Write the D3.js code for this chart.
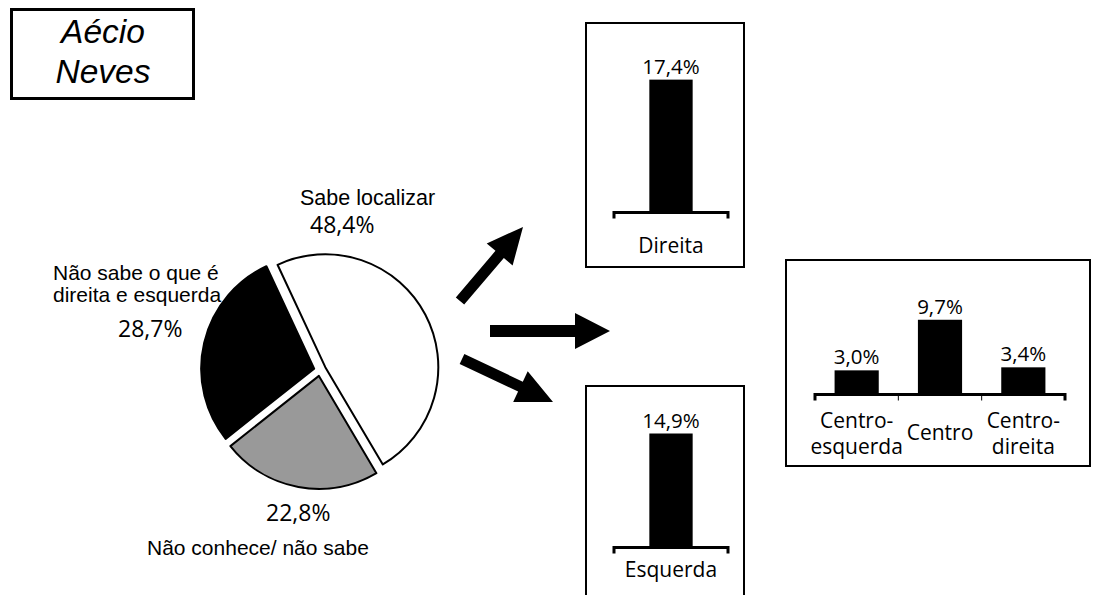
<!DOCTYPE html>
<html>
<head>
<meta charset="utf-8">
<script src="https://cdn.jsdelivr.net/npm/d3@7"></script>
<style>
  html, body { margin: 0; padding: 0; background: #fff; }
  svg { display: block; }
</style>
</head>
<body>
<svg id="chart" width="1097" height="595"></svg>
<script>
// ---- Data ----
const title = ["Aécio", "Neves"];
const pieLabels = ["Sabe localizar", "Não conhece/ não sabe", "Não sabe o que é direita e esquerda"];
const pieValues = [48.4, 22.8, 28.7];
const pieColors = ["#ffffff", "#999999", "#000000"];

const direitaCats = ["Direita"];
const direitaValues = [17.4];
const esquerdaCats = ["Esquerda"];
const esquerdaValues = [14.9];
const centroCats = ["Centro-esquerda", "Centro", "Centro-direita"];
const centroLabelLines = [["Centro-", "esquerda"], ["Centro"], ["Centro-", "direita"]];
const centroValues = [3.0, 9.7, 3.4];

const fmt = v => d3.format(".1f")(v).replace(".", ",") + "%";

const svg = d3.select("#chart");
const SANS = "'Liberation Sans', Arial, sans-serif";
const BARF = "'Open Sans', sans-serif";
const BARW = 400;

// ---- Title box ----
svg.append("rect").attr("x", 11.5).attr("y", 9.5).attr("width", 182).attr("height", 89)
  .attr("fill", "#fff").attr("stroke", "#000").attr("stroke-width", 3);
svg.selectAll("text.title").data(title).join("text")
  .attr("class", "title")
  .attr("x", 103).attr("y", (d, i) => 43 + i * 40)
  .attr("text-anchor", "middle")
  .attr("font-family", SANS).attr("font-style", "italic").attr("font-size", 33.5)
  .text(d => d);

// ---- Pie ----
const cx = 320, cy = 370, R = 113, explode = 6;
const pie = d3.pie().sort(null).value(d => d)
  .startAngle(-25 * Math.PI / 180).endAngle(-25 * Math.PI / 180 + 2 * Math.PI);
const arcs = pie(pieValues);
const arc = d3.arc().innerRadius(0).outerRadius(R);
const gPie = svg.append("g").attr("transform", `translate(${cx},${cy})`);
gPie.selectAll("path").data(arcs).join("path")
  .attr("transform", d => {
    const a = (d.startAngle + d.endAngle) / 2;
    return `translate(${explode * Math.sin(a)},${-explode * Math.cos(a)})`;
  })
  .attr("d", arc)
  .attr("fill", (d, i) => pieColors[i])
  .attr("stroke", "#000").attr("stroke-width", 2).attr("stroke-linejoin", "round");

// text helper
function textBlock(lines, x, y, size, family, dy, anchor, weight) {
  const t = svg.append("text").attr("font-family", family).attr("font-size", size)
    .attr("font-weight", weight || 400)
    .attr("text-anchor", anchor || "start");
  lines.forEach((l, i) => t.append("tspan").attr("x", x).attr("y", y + i * dy).text(l));
  return t;
}
textBlock([pieLabels[0]], 300, 205, 21.5, SANS, 0);
textBlock([fmt(pieValues[0])], 310, 233, 23, BARF, 0, "start", BARW);
textBlock(["Não sabe o que é", "direita e esquerda"], 53, 280, 21, SANS, 22);
textBlock([fmt(pieValues[2])], 118, 337, 23, BARF, 0, "start", BARW);
textBlock([fmt(pieValues[1])], 266, 521, 23, BARF, 0, "start", BARW);
textBlock([pieLabels[1]], 147, 555, 21, SANS, 0);

// ---- Arrows ----
function arrow(x0, y0, x1, y1, sw, hl, hw) {
  const dx = x1 - x0, dy = y1 - y0, L = Math.hypot(dx, dy);
  const ux = dx / L, uy = dy / L, px = -uy, py = ux;
  const bx = x1 - ux * hl, by = y1 - uy * hl;
  const pts = [
    [x0 + px * sw / 2, y0 + py * sw / 2],
    [bx + px * sw / 2, by + py * sw / 2],
    [bx + px * hw, by + py * hw],
    [x1, y1],
    [bx - px * hw, by - py * hw],
    [bx - px * sw / 2, by - py * sw / 2],
    [x0 - px * sw / 2, y0 - py * sw / 2]
  ];
  svg.append("polygon").attr("points", pts.map(p => p.join(",")).join(" ")).attr("fill", "#000");
}
arrow(460, 301, 523, 227, 11, 36, 17);
arrow(490, 331, 610, 331, 12, 35, 18);
arrow(462, 359, 553, 402, 11, 36, 17);

// ---- Bar charts ----
const yLen = d3.scaleLinear().domain([0, 20]).range([0, 151]);

function barChart(opts) {
  const { box, x0, x1, axisY, cats, values, labelLines, pi, po, divTicks } = opts;
  svg.append("rect").attr("x", box[0]).attr("y", box[1]).attr("width", box[2]).attr("height", box[3])
    .attr("fill", "#fff").attr("stroke", "#000").attr("stroke-width", 2);
  const x = d3.scaleBand().domain(cats).range([x0, x1]).paddingInner(pi).paddingOuter(po);
  const g = svg.append("g");
  g.selectAll("rect.bar").data(values).join("rect").attr("class", "bar")
    .attr("x", (d, i) => x(cats[i])).attr("width", x.bandwidth())
    .attr("y", d => axisY - yLen(d)).attr("height", d => yLen(d))
    .attr("fill", "#000");
  g.selectAll("text.val").data(values).join("text").attr("class", "val")
    .attr("x", (d, i) => x(cats[i]) + x.bandwidth() / 2)
    .attr("y", d => axisY - yLen(d) - 6)
    .attr("text-anchor", "middle").attr("font-family", BARF).attr("font-size", 20.5)
    .attr("font-weight", BARW)
    .text(fmt);
  // axis
  const axis = d3.axisBottom(x).tickSize(0).tickFormat("");
  const ga = svg.append("g").attr("transform", `translate(0,${axisY + 1.5})`).call(axis);
  ga.select(".domain").attr("stroke", "#000").attr("stroke-width", 3)
    .attr("d", `M${x0},6V0H${x1}V6`);
  if (divTicks) {
    for (let i = 1; i < cats.length; i++) {
      const xx = x0 + (x1 - x0) * i / cats.length;
      ga.append("line").attr("x1", xx).attr("x2", xx).attr("y1", 0).attr("y2", 6)
        .attr("stroke", "#000").attr("stroke-width", 1);
    }
  }
  // category labels
  cats.forEach((c, i) => {
    const lines = labelLines[i];
    const cxl = x(c) + x.bandwidth() / 2;
    const base = opts.labelY(lines.length);
    textBlock(lines, cxl, base, 21, BARF, 26, "middle", BARW);
  });
}

barChart({
  box: [586, 23, 158, 244], x0: 614, x1: 728, axisY: 211,
  cats: direitaCats, values: direitaValues, labelLines: [["Direita"]],
  pi: 0.62, po: 0.31, labelY: () => 253
});
barChart({
  box: [586, 386, 158, 230], x0: 614, x1: 728, axisY: 546,
  cats: esquerdaCats, values: esquerdaValues, labelLines: [["Esquerda"]],
  pi: 0.62, po: 0.31, labelY: () => 577
});
barChart({
  box: [786, 260, 304, 206], x0: 815, x1: 1065, axisY: 393,
  cats: centroCats, values: centroValues, labelLines: centroLabelLines,
  pi: 0.47, po: 0.235, divTicks: true, labelY: n => (n === 1 ? 440 : 428)
});
</script>
</body>
</html>
